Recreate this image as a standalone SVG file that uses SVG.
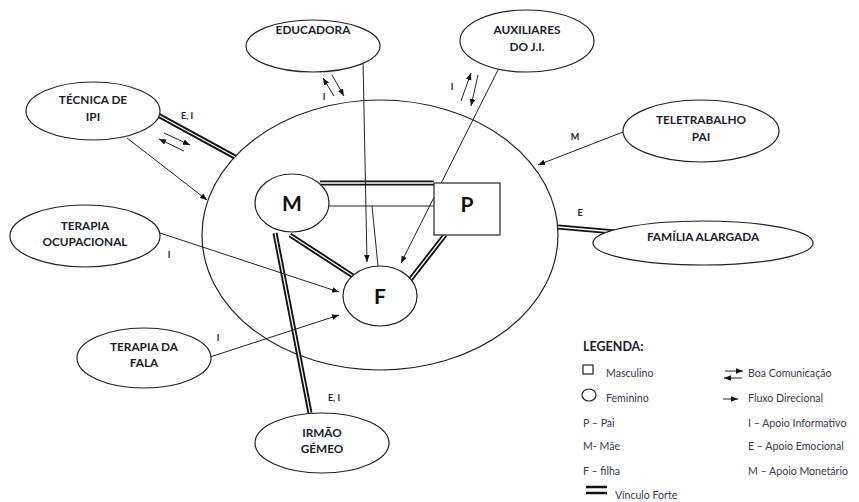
<svg xmlns="http://www.w3.org/2000/svg" width="859" height="502" viewBox="0 0 859 502">
<defs>
<marker id="ah" viewBox="0 0 10 10" refX="10" refY="5" markerWidth="7" markerHeight="7" markerUnits="userSpaceOnUse" orient="auto">
<path d="M0,1 L10,5 L0,9 z" fill="#111"/>
</marker>
</defs>
<style>
.e{fill:#fff;stroke:#222;stroke-width:1.2}
.t{font-family:Lato,"Open Sans","Liberation Sans",sans-serif;font-weight:bold;font-size:11.8px;fill:#1c1c2c;text-anchor:middle}
.big{font-family:Lato,"Liberation Sans",sans-serif;font-weight:bold;font-size:21px;fill:#111;text-anchor:middle}
.lb{font-family:Lato,"Liberation Sans",sans-serif;font-weight:bold;font-size:9px;fill:#1c1c2c;text-anchor:middle}
.lg{font-family:Lato,"Open Sans","Liberation Sans",sans-serif;font-size:10.6px;fill:#3a3a4c}
.th{fill:none;stroke:#222;stroke-width:1}
.ar{fill:none;stroke:#222;stroke-width:1;marker-end:url(#ah)}
.d1{fill:none;stroke:#111;stroke-width:5}
.d2{fill:none;stroke:#fff;stroke-width:1.3}
</style>
<rect width="859" height="502" fill="#fff"/>

<g id="sistema">
<ellipse cx="380" cy="235" rx="178" ry="135" class="e"/>
</g>

<g id="connectors">
<path class="d1" d="M320,183 L434,183 M290,235 L353,276 M445,235 L410,280 M275,233 L310,413 M158,115 L235,157 M558,227 L615,232"/>
<path class="d2" d="M320,183 L434,183 M290,235 L353,276 M445,235 L410,280 M275,233 L310,413 M158,115 L235,157 M558,227 L615,232"/>
<path class="th" d="M329,206 L434,206 M372,206 L378,266"/>
<path class="ar" d="M363,60 L367,262"/>
<path class="ar" d="M498,70 L401,263"/>
<path class="ar" d="M623,132 L538,165"/>
<path class="ar" d="M127,138 L207,200"/>
<path class="ar" d="M160,233 L339,292"/>
<path class="ar" d="M210,357 L339,315"/>
<path class="ar" d="M164,133 L190,145"/>
<path class="ar" d="M184,151 L159,139"/>
<path class="ar" d="M334,96 L323,78"/>
<path class="ar" d="M332,75 L344,96"/>
<path class="ar" d="M461,101 L471,73"/>
<path class="ar" d="M478,75 L471,106"/>
<text class="lb" x="187" y="119">E, I</text>
<text class="lb" x="324" y="100">I</text>
<text class="lb" x="452" y="90">I</text>
<text class="lb" x="575" y="140">M</text>
<text class="lb" x="580" y="216">E</text>
<text class="lb" x="169" y="258">I</text>
<text class="lb" x="218" y="341">I</text>
<text class="lb" x="334" y="401">E, I</text>
</g>

<g id="node-M">
<ellipse cx="292" cy="203" rx="37" ry="29" class="e"/>
<text class="big" x="292" y="211">M</text>
</g>
<g id="node-P">
<rect x="434" y="183" width="66" height="52" class="e"/>
<text class="big" x="467" y="212">P</text>
</g>
<g id="node-F">
<ellipse cx="380" cy="296" rx="37" ry="30" class="e"/>
<text class="big" x="380" y="304">F</text>
</g>

<g id="node-educadora">
<ellipse cx="313" cy="46" rx="67" ry="26" class="e"/>
<text class="t" x="313" y="34">EDUCADORA</text>
</g>
<g id="node-auxiliares">
<ellipse cx="527" cy="41" rx="67" ry="31" class="e"/>
<text class="t" x="527" y="34">AUXILIARES</text>
<text class="t" x="527" y="51">DO J.I.</text>
</g>
<g id="node-teletrabalho">
<ellipse cx="701" cy="131" rx="78" ry="31" class="e"/>
<text class="t" x="701" y="124">TELETRABALHO</text>
<text class="t" x="701" y="141">PAI</text>
</g>
<g id="node-familia">
<ellipse cx="703" cy="243" rx="110" ry="22" class="e"/>
<text class="t" x="703" y="241">FAMÍLIA ALARGADA</text>
</g>
<g id="node-tecnica">
<ellipse cx="93" cy="111" rx="67" ry="29" class="e"/>
<text class="t" x="93" y="104">TÉCNICA DE</text>
<text class="t" x="93" y="121">IPI</text>
</g>
<g id="node-terapia-ocupacional">
<ellipse cx="85" cy="236" rx="75" ry="31" class="e"/>
<text class="t" x="85" y="230">TERAPIA</text>
<text class="t" x="85" y="246">OCUPACIONAL</text>
</g>
<g id="node-terapia-fala">
<ellipse cx="144" cy="358" rx="67" ry="30" class="e"/>
<text class="t" x="144" y="351">TERAPIA DA</text>
<text class="t" x="144" y="367">FALA</text>
</g>
<g id="node-irmao">
<ellipse cx="322" cy="443" rx="67" ry="30" class="e"/>
<text class="t" x="322" y="437">IRMÃO</text>
<text class="t" x="322" y="453">GÉMEO</text>
</g>

<g id="legenda">
<text x="583" y="351" style="font-family:Lato,'Liberation Sans',sans-serif;font-weight:bold;font-size:12.5px;fill:#1c1c2c">LEGENDA:</text>
<rect x="583" y="365" width="10" height="9" fill="none" stroke="#222" stroke-width="1.2"/>
<text class="lg" x="606" y="377">Masculino</text>
<ellipse cx="589" cy="395" rx="7" ry="6" fill="none" stroke="#222" stroke-width="1.2"/>
<text class="lg" x="606" y="402">Feminino</text>
<text class="lg" x="583" y="427">P – Pai</text>
<text class="lg" x="583" y="450">M- Mãe</text>
<text class="lg" x="583" y="475">F – filha</text>
<path d="M586,487 L607,487 M586,493 L607,493" stroke="#111" stroke-width="2.5"/>
<text class="lg" x="615" y="499">Vínculo Forte</text>
<path class="ar" d="M725,371 L743,371"/>
<path class="ar" d="M742,378 L724,378"/>
<text class="lg" x="748" y="377">Boa Comunicação</text>
<path class="ar" d="M723,399 L738,399"/>
<text class="lg" x="748" y="402">Fluxo Direcional</text>
<text class="lg" x="748" y="427">I – Apoio Informativo</text>
<text class="lg" x="748" y="450">E – Apoio Emocional</text>
<text class="lg" x="748" y="475">M – Apoio Monetário</text>
</g>
</svg>
